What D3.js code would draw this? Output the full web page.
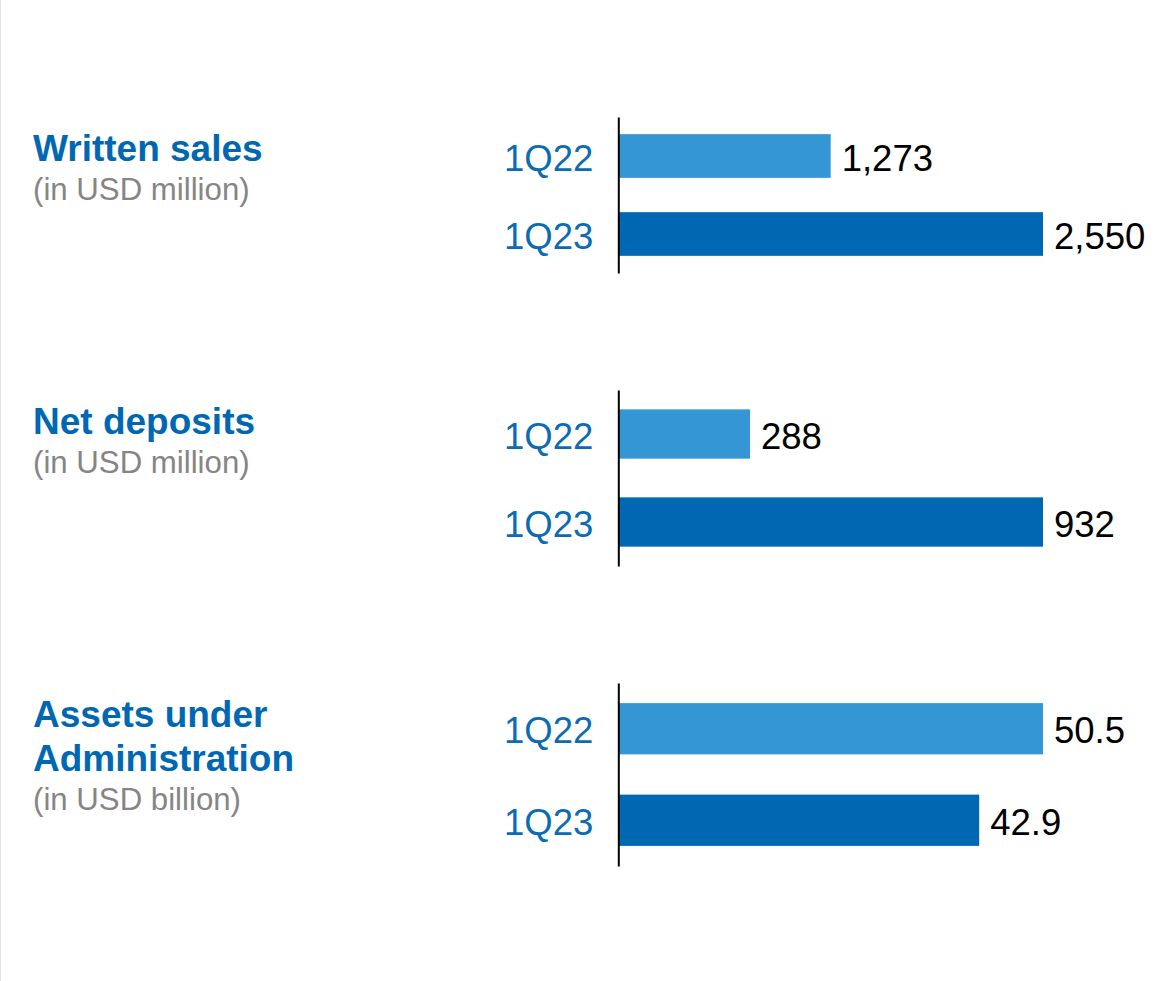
<!DOCTYPE html>
<html>
<head>
<meta charset="utf-8">
<script src="https://cdn.jsdelivr.net/npm/d3@7"></script>
<style>
  html, body { margin: 0; padding: 0; background: #ffffff; }
  svg { display: block; }
  text { font-family: "Liberation Sans", Arial, Helvetica, sans-serif; }
</style>
</head>
<body>
<svg id="chart" width="1171" height="981"></svg>
<script>
// Periods shown in every panel
const periods = ["1Q22", "1Q23"];

// One entry per panel: heading lines, unit note, values per period
const titles = [["Written sales"], ["Net deposits"], ["Assets under", "Administration"]];
const units = ["(in USD million)", "(in USD million)", "(in USD billion)"];
const writtenSales = [1273, 2550];
const netDeposits = [288, 932];
const assetsUnderAdmin = [50.5, 42.9];
const panelValues = [writtenSales, netDeposits, assetsUnderAdmin];
const valueFormats = [",", ",", ".1f"];

// Layout
const W = 1171, H = 981;
const axisX = 618.3;
const barX0 = 619, barX1 = 1043;
const panelBands = [[117, 273], [390, 566], [683, 866]];
const titleBaselines = [161, 434, 727];
const titleLineGap = 44;
const unitGap = 39;
const blueDark = "#0068b3";
const blueLight = "#3596d4";
const barColors = [blueLight, blueDark];

const svg = d3.select("#chart");

svg.append("rect").attr("x", 0).attr("y", 0).attr("width", W).attr("height", H).attr("fill", "#ffffff");
// thin frame line on the left edge
svg.append("line")
  .attr("x1", 0.5).attr("x2", 0.5).attr("y1", 0).attr("y2", H)
  .attr("stroke", "#e3e3e3").attr("stroke-width", 1);

panelValues.forEach((vals, i) => {
  const g = svg.append("g");
  const rows = periods.map((p, j) => ({ period: p, value: vals[j], color: barColors[j] }));

  const x = d3.scaleLinear().domain([0, d3.max(vals)]).range([barX0, barX1]);
  const y = d3.scaleBand().domain(periods).range(panelBands[i]).paddingInner(0.44).paddingOuter(0.22);

  // heading
  const titleLines = titles[i];
  titleLines.forEach((t, k) => {
    g.append("text")
      .attr("x", 33).attr("y", titleBaselines[i] + k * titleLineGap)
      .attr("font-size", 37).attr("font-weight", "bold").attr("fill", blueDark)
      .text(t);
  });
  g.append("text")
    .attr("x", 33).attr("y", titleBaselines[i] + (titleLines.length - 1) * titleLineGap + unitGap)
    .attr("font-size", 31.2).attr("fill", "#858585")
    .text(units[i]);

  // bars
  g.selectAll("rect.bar").data(rows).join("rect")
    .attr("class", "bar")
    .attr("x", x(0))
    .attr("y", d => y(d.period))
    .attr("width", d => x(d.value) - x(0))
    .attr("height", y.bandwidth())
    .attr("fill", d => d.color);

  // value labels
  const fmt = d3.format(valueFormats[i]);
  g.selectAll("text.val").data(rows).join("text")
    .attr("class", "val")
    .attr("x", d => x(d.value) + 11)
    .attr("y", d => y(d.period) + y.bandwidth() / 2)
    .attr("dy", "0.4em")
    .attr("font-size", 36.5).attr("fill", "#000000")
    .text(d => fmt(d.value));

  // category axis
  const axis = d3.axisLeft(y).tickSize(0).tickPadding(25);
  const ag = g.append("g").attr("transform", `translate(${axisX},0)`).call(axis);
  ag.select(".domain").attr("stroke", "#000000").attr("stroke-width", 2);
  ag.selectAll(".tick text")
    .attr("font-size", 36.5)
    .attr("dy", "0.4em")
    .attr("font-family", "\"Liberation Sans\", Arial, Helvetica, sans-serif")
    .attr("fill", "#0b6cb5");
});
</script>
</body>
</html>
